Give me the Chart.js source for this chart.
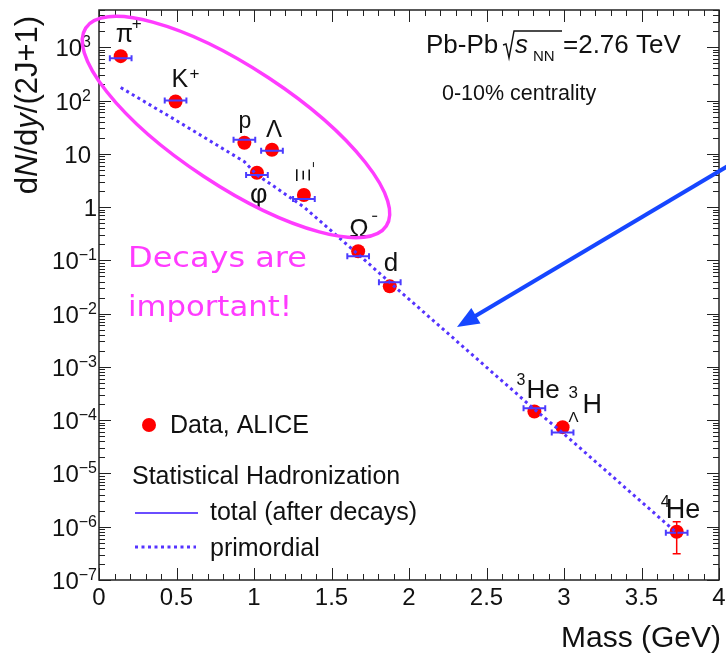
<!DOCTYPE html>
<html>
<head>
<meta charset="utf-8">
<title>Hadron yields vs mass</title>
<script src="https://cdn.jsdelivr.net/npm/chart.js"></script>
<style>
  html, body { margin: 0; padding: 0; background: #fff; }
  #chart { display: block; }
</style>
</head>
<body>
<canvas id="chart" width="726" height="656"></canvas>
<script>
  // particles, masses (GeV) and dN/dy/(2J+1)
  const particles = ['π+', 'K+', 'p', 'φ', 'Λ', 'Ξ-', 'Ω-', 'd', '3He', '3ΛH', '4He'];
  const mass = [0.140, 0.494, 0.938, 1.019, 1.116, 1.322, 1.672, 1.876, 2.809, 2.991, 3.727];
  const dataYield = [680, 96, 16.1, 4.4, 11.9, 1.68, 0.148, 0.0325, 1.45e-4, 7.4e-5, 8.05e-7];
  const errLow = [null, null, null, null, null, null, null, null, null, null, 3.1e-7];
  const errHigh = [null, null, null, null, null, null, null, null, null, null, 1.24e-6];
  const modelTotal = [620, 100, 18.3, 4.0, 11.4, 1.41, 0.119, 0.0386, 1.68e-4, 5.9e-5, 7.7e-7];
  const primordial = [175, 43, 7.1, 4.0, 2.6, 1.0, 0.13, 0.0386, 1.6e-4, 5.8e-5, 7.7e-7];

  const xTicks = [0, 0.5, 1, 1.5, 2, 2.5, 3, 3.5, 4];
  const xTickLabels = ['0', '0.5', '1', '1.5', '2', '2.5', '3', '3.5', '4'];
  const yExponents = [-7, -6, -5, -4, -3, -2, -1, 0, 1, 2, 3];

  const FONT = '"Liberation Sans", Arial, Helvetica, sans-serif';
  const RED = '#ff0000';
  const MODEL = '#4b3cff';
  const PRIM = '#5533ff';
  const PINK = '#ff3cff';

  function setFont(ctx, size, style) {
    ctx.font = (style || '') + ' ' + size + 'px ' + FONT;
  }

  // parts: [text, size, dx, dy, style]
  function drawParts(ctx, x, y, parts) {
    parts.forEach(p => {
      setFont(ctx, p[1], p[4]);
      ctx.fillText(p[0], x + p[2], y + p[3]);
    });
  }

  // label layout relative to the data point pixel
  const labelParts = {
    'π+': [['π', 25, -5, -14], ['+', 17, 11, -27]],
    'K+': [['K', 25, -4, -14], ['+', 17, 14, -22]],
    'p': [['p', 23, -6, -15]],
    'Λ': [['Λ', 24, -6, -13]],
    'φ': [['φ', 27, -7, 30]],
    'Ω-': [['Ω', 26, -9, -14]],
    'd': [['d', 26, -6, -15]],
    '3He': [['3', 16, -18, -27], ['He', 26, -8, -14]],
    '3ΛH': [['3', 17, 6, -29], ['Λ', 15, 6, -5], ['H', 27, 20, -14]],
    '4He': [['4', 16, -16, -25], ['He', 27, -11, -14]]
  };

  const overlay = {
    id: 'overlay',
    afterDatasetsDraw(chart) {
      const ctx = chart.ctx;
      const xs = chart.scales.x, ys = chart.scales.y, a = chart.chartArea;
      ctx.save();

      // model (total) horizontal bars
      ctx.strokeStyle = MODEL;
      ctx.lineWidth = 2;
      mass.forEach((m, i) => {
        const x1 = xs.getPixelForValue(m - 0.07), x2 = xs.getPixelForValue(m + 0.07);
        const y = ys.getPixelForValue(modelTotal[i]);
        ctx.beginPath();
        ctx.moveTo(x1, y); ctx.lineTo(x2, y);
        ctx.moveTo(x1, y - 3); ctx.lineTo(x1, y + 3);
        ctx.moveTo(x2, y - 3); ctx.lineTo(x2, y + 3);
        ctx.stroke();
      });

      // vertical error bars
      ctx.strokeStyle = RED;
      ctx.lineWidth = 1.5;
      mass.forEach((m, i) => {
        if (errLow[i] == null) return;
        const x = xs.getPixelForValue(m);
        const y1 = ys.getPixelForValue(errLow[i]), y2 = ys.getPixelForValue(errHigh[i]);
        ctx.beginPath();
        ctx.moveTo(x, y1); ctx.lineTo(x, y2);
        ctx.moveTo(x - 4, y1); ctx.lineTo(x + 4, y1);
        ctx.moveTo(x - 4, y2); ctx.lineTo(x + 4, y2);
        ctx.stroke();
      });

      // frame and ticks
      ctx.strokeStyle = '#222';
      ctx.lineWidth = 1.5;
      ctx.strokeRect(a.left, a.top, a.right - a.left, a.bottom - a.top);
      ctx.lineWidth = 1;
      ctx.beginPath();
      for (let i = 0; i <= 40; i++) {
        const px = Math.round(xs.getPixelForValue(i / 10)) + 0.5;
        const len = i % 5 === 0 ? 12 : 6;
        ctx.moveTo(px, a.bottom); ctx.lineTo(px, a.bottom - len);
        ctx.moveTo(px, a.top); ctx.lineTo(px, a.top + len);
      }
      for (let k = -7; k <= 3; k++) {
        for (let m = 1; m <= 9; m++) {
          const v = m * Math.pow(10, k);
          if (v > ys.max) break;
          const py = Math.round(ys.getPixelForValue(v)) + 0.5;
          const len = m === 1 ? 12 : 6;
          ctx.moveTo(a.left, py); ctx.lineTo(a.left + len, py);
          ctx.moveTo(a.right, py); ctx.lineTo(a.right - len, py);
        }
      }
      ctx.stroke();

      // tick labels
      ctx.fillStyle = '#111';
      ctx.textBaseline = 'alphabetic';
      ctx.textAlign = 'center';
      setFont(ctx, 24);
      xTicks.forEach((v, i) => ctx.fillText(xTickLabels[i], xs.getPixelForValue(v), 605));
      ctx.textAlign = 'left';
      yExponents.forEach(k => {
        const py = ys.getPixelForValue(Math.pow(10, k));
        const base = k === 0 ? '1' : '10';
        const sup = (k === 0 || k === 1) ? '' : (k < 0 ? '−' + (-k) : String(k));
        setFont(ctx, 24);
        const wb = ctx.measureText(base).width;
        setFont(ctx, 16);
        const ws = ctx.measureText(sup).width;
        const right = (k <= 0) ? 97 : 91;
        const x0 = right - wb - ws;
        setFont(ctx, 24);
        ctx.fillText(base, x0, py + 9);
        setFont(ctx, 16);
        ctx.fillText(sup, x0 + wb, py);
      });

      // axis titles
      setFont(ctx, 30);
      ctx.textAlign = 'right';
      ctx.fillText('Mass (GeV)', 721, 647);
      ctx.save();
      ctx.translate(37, 105);
      ctx.rotate(-Math.PI / 2);
      const ttl = [['d', ''], ['N', 'italic'], ['/d', ''], ['y', 'italic'], ['/(2J+1)', '']];
      let tw = 0;
      ttl.forEach(t => { setFont(ctx, 31, t[1]); tw += ctx.measureText(t[0]).width; });
      let tx = -tw / 2;
      ctx.textAlign = 'left';
      ttl.forEach(t => { setFont(ctx, 31, t[1]); ctx.fillText(t[0], tx, 0); tx += ctx.measureText(t[0]).width; });
      ctx.restore();

      // particle labels
      ctx.textAlign = 'left';
      ctx.fillStyle = '#111';
      particles.forEach((name, i) => {
        const px = xs.getPixelForValue(mass[i]), py = ys.getPixelForValue(dataYield[i]);
        if (labelParts[name]) drawParts(ctx, px, py, labelParts[name]);
        if (name === 'Ξ-') {
          ctx.save();
          ctx.translate(px - 2, py - 20);
          ctx.rotate(Math.PI / 2);
          setFont(ctx, 21);
          ctx.textAlign = 'center';
          ctx.textBaseline = 'middle';
          ctx.fillText('Ξ', 0, 0);
          ctx.restore();
          ctx.strokeStyle = '#111';
          ctx.lineWidth = 1;
          ctx.beginPath();
          ctx.moveTo(px + 9.5, py - 33); ctx.lineTo(px + 9.5, py - 28);
          ctx.stroke();
        }
        if (name === 'Ω-') {
          ctx.strokeStyle = '#111';
          ctx.lineWidth = 1.2;
          ctx.beginPath();
          ctx.moveTo(px + 14, py - 35); ctx.lineTo(px + 19, py - 35);
          ctx.stroke();
        }
      });

      // header texts
      ctx.fillStyle = '#111';
      setFont(ctx, 26);
      ctx.fillText('Pb-Pb', 426, 53);
      ctx.strokeStyle = '#111';
      ctx.lineWidth = 1.4;
      ctx.beginPath();
      ctx.moveTo(503, 45); ctx.lineTo(506, 44); ctx.lineTo(509, 58); ctx.lineTo(514, 31); ctx.lineTo(562, 31);
      ctx.stroke();
      setFont(ctx, 26, 'italic');
      ctx.fillText('s', 515, 53);
      setFont(ctx, 15);
      ctx.fillText('NN', 533, 61);
      setFont(ctx, 26);
      ctx.fillText('=2.76 TeV', 563, 53);
      setFont(ctx, 21.5);
      ctx.fillText('0-10% centrality', 442, 100);

      // legend
      ctx.fillStyle = RED;
      ctx.beginPath();
      ctx.arc(149, 425, 7, 0, Math.PI * 2);
      ctx.fill();
      ctx.fillStyle = '#111';
      setFont(ctx, 25);
      ctx.fillText('Data, ALICE', 170, 433);
      ctx.fillText('Statistical Hadronization', 132, 484);
      ctx.fillText('total (after decays)', 210, 520);
      ctx.fillText('primordial', 210, 556);
      ctx.strokeStyle = '#6a4dff';
      ctx.lineWidth = 2;
      ctx.beginPath();
      ctx.moveTo(135, 513); ctx.lineTo(198, 513);
      ctx.stroke();
      ctx.strokeStyle = PRIM;
      ctx.lineWidth = 3;
      ctx.setLineDash([3, 3.5]);
      ctx.beginPath();
      ctx.moveTo(135, 547); ctx.lineTo(196, 547);
      ctx.stroke();
      ctx.setLineDash([]);

      // annotation: ellipse, note and arrow
      ctx.strokeStyle = PINK;
      ctx.lineWidth = 3.5;
      ctx.beginPath();
      ctx.ellipse(236, 127, 180, 59, 33.4 * Math.PI / 180, 0, Math.PI * 2);
      ctx.stroke();

      ctx.fillStyle = PINK;
      const note = [['Decays are', 128, 267, 179], ['important!', 128, 316, 164]];
      note.forEach(n => {
        ctx.font = '28px "Comic Sans MS", "DejaVu Sans", sans-serif';
        const w = ctx.measureText(n[0]).width;
        ctx.save();
        ctx.translate(n[1], n[2]);
        ctx.scale(n[3] / w, 1);
        ctx.fillText(n[0], 0, 0);
        ctx.restore();
      });

      const ax0 = 728, ay0 = 166, ax1 = 457, ay1 = 327;
      const ang = Math.atan2(ay1 - ay0, ax1 - ax0);
      ctx.strokeStyle = '#1646ff';
      ctx.fillStyle = '#1646ff';
      ctx.lineWidth = 4;
      ctx.beginPath();
      ctx.moveTo(ax0, ay0);
      ctx.lineTo(ax1 - 16 * Math.cos(ang), ay1 - 16 * Math.sin(ang));
      ctx.stroke();
      ctx.beginPath();
      ctx.moveTo(ax1, ay1);
      ctx.lineTo(ax1 - 22 * Math.cos(ang) + 9 * Math.sin(ang), ay1 - 22 * Math.sin(ang) - 9 * Math.cos(ang));
      ctx.lineTo(ax1 - 22 * Math.cos(ang) - 9 * Math.sin(ang), ay1 - 22 * Math.sin(ang) + 9 * Math.cos(ang));
      ctx.closePath();
      ctx.fill();

      ctx.restore();
    }
  };

  new Chart(document.getElementById('chart'), {
    type: 'scatter',
    data: {
      datasets: [
        {
          label: 'primordial',
          data: mass.map((m, i) => ({ x: m, y: primordial[i] })),
          showLine: true,
          borderColor: PRIM,
          borderWidth: 3,
          borderDash: [3, 3.5],
          pointRadius: 0,
          fill: false,
          order: 0
        },
        {
          label: 'Data, ALICE',
          data: mass.map((m, i) => ({ x: m, y: dataYield[i] })),
          backgroundColor: RED,
          borderWidth: 0,
          pointRadius: 7,
          order: 2
        }
      ]
    },
    options: {
      responsive: false,
      animation: false,
      layout: { padding: { left: 99, right: 4, top: 10, bottom: 76 } },
      scales: {
        x: { type: 'linear', min: 0, max: 4, display: false },
        y: { type: 'logarithmic', min: 1e-7, max: 5000, display: false }
      },
      plugins: {
        legend: { display: false },
        tooltip: { enabled: false }
      }
    },
    plugins: [overlay]
  });
</script>
</body>
</html>
